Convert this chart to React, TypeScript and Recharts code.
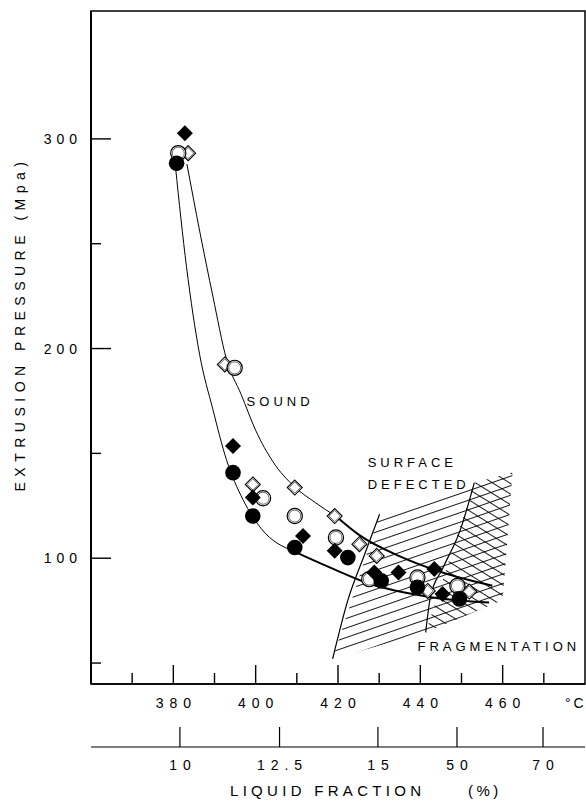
import React from 'react';
import { ComposedChart, XAxis, YAxis, Line, Area, Scatter, ReferenceArea, ReferenceDot } from 'recharts';

const FONT = '"Liberation Sans", Arial, Helvetica, sans-serif';

// temperature axis (deg C) - labelled every 20, small ticks in between
const tempTicks = [370, 380, 390, 400, 410, 420, 430, 440, 450, 460, 470];
const pressureTicks = [50, 100, 150, 200, 250, 300];

// liquid fraction scale, placed at the matching temperatures
const fractionTemps = [381.6, 405.8, 429.7, 448.9, 469.8];
const fractionLabels = ['10', '12.5', '15', '50', '70'];

// measured points (x = temperature, y = pressure MPa)
const filledCircles = [
  { x: 380.8, y: 288.4 }, { x: 394.5, y: 140.8 }, { x: 399.3, y: 120.1 }, { x: 409.5, y: 105.1 },
  { x: 422.4, y: 100.3 }, { x: 430.5, y: 89.2 }, { x: 439.3, y: 86.1 }, { x: 449.5, y: 80.6 },
];
const openCircles = [
  { x: 381.2, y: 293.2 }, { x: 394.9, y: 190.8 }, { x: 401.8, y: 128.6 }, { x: 409.5, y: 120.1 },
  { x: 419.5, y: 109.9 }, { x: 427.6, y: 90.0 }, { x: 439.3, y: 90.8 }, { x: 449.0, y: 86.8 },
];
const filledDiamonds = [
  { x: 382.8, y: 302.7 }, { x: 394.5, y: 153.5 }, { x: 399.3, y: 128.9 }, { x: 411.5, y: 110.6 },
  { x: 419.2, y: 103.5 }, { x: 428.8, y: 93.2 }, { x: 434.7, y: 93.2 }, { x: 443.4, y: 94.8 },
  { x: 445.4, y: 82.9 },
];
const openDiamonds = [
  { x: 383.6, y: 293.2 }, { x: 392.5, y: 192.4 }, { x: 399.3, y: 135.2 }, { x: 409.5, y: 133.7 },
  { x: 419.2, y: 120.1 }, { x: 425.2, y: 106.7 }, { x: 429.4, y: 101.1 }, { x: 441.8, y: 84.4 },
  { x: 451.9, y: 84.1 },
];

// boundary curves of the "sound" band
const upperCurveThin = [
  { x: 383.3, y: 288 }, { x: 386.4, y: 256 }, { x: 389.6, y: 225 }, { x: 392.9, y: 195 },
  { x: 396.5, y: 178 }, { x: 400, y: 161 }, { x: 404.2, y: 146 }, { x: 409.5, y: 134 },
  { x: 414.5, y: 126.5 }, { x: 419.5, y: 120 },
];
const upperCurveThick = [
  { x: 419.5, y: 120 }, { x: 425.2, y: 111 }, { x: 434.9, y: 101 }, { x: 445.4, y: 93.2 }, { x: 457.5, y: 86.9 },
];
const lowerCurveThin = [
  { x: 380.5, y: 287 }, { x: 383.2, y: 239 }, { x: 386.4, y: 197 }, { x: 389.6, y: 171 },
  { x: 392.9, y: 147 }, { x: 396.9, y: 128 }, { x: 401.4, y: 114 }, { x: 409, y: 103.5 },
];
const lowerCurveThick = [
  { x: 409, y: 103.5 }, { x: 418.7, y: 95 }, { x: 426.8, y: 88.4 }, { x: 443, y: 81.3 }, { x: 456.7, y: 78.9 },
];

// region boundaries
const defectedEdge = [{ x: 418.7, y: 52 }, { x: 422.4, y: 80 }, { x: 426.5, y: 102 }, { x: 430.1, y: 121 }];
const fragmentEdge = [{ x: 441.3, y: 64.6 }, { x: 442.5, y: 82 }, { x: 445.4, y: 95 }, { x: 449.8, y: 114 }, { x: 453.1, y: 136 }];

// hatched regions as [low, high] ranges
const defectedRegion = [
  { x: 418.7, range: [52, 52] }, { x: 430.1, range: [58.4, 121] },
  { x: 441.3, range: [64.6, 128.3] }, { x: 453.1, range: [136, 136] },
];
const fragmentRegion = [
  { x: 441.3, range: [64.6, 64.6] }, { x: 453.1, range: [74.3, 136] },
  { x: 460, range: [80, 139.7] }, { x: 462.4, range: [141, 141] },
];

const TempTick = ({ x, y, payload }: any) => {
  const major = payload.value % 20 === 0;
  return (
    <g>
      <line x1={x} y1={y} x2={x} y2={y - (major ? 19 : 11)} stroke="#000" strokeWidth={1.4} />
      {major && (
        <text x={x} y={y + 24} dx={3} textAnchor="middle" fontSize={14} fontFamily={FONT} letterSpacing={6} fill="#000">
          {payload.value}
        </text>
      )}
    </g>
  );
};

const FractionTick = ({ x, y, payload }: any) => {
  const i = fractionTemps.indexOf(payload.value);
  return (
    <g>
      <line x1={x} y1={y} x2={x} y2={y - 20} stroke="#000" strokeWidth={1.2} />
      <text x={x} y={y + 23} dx={3} textAnchor="middle" fontSize={14} fontFamily={FONT} letterSpacing={6} fill="#000">
        {fractionLabels[i]}
      </text>
    </g>
  );
};

const PressureTick = ({ x, y, payload }: any) => {
  const major = payload.value % 100 === 0;
  return (
    <g>
      <line x1={x} y1={y} x2={x + (major ? 20 : 10)} y2={y} stroke="#000" strokeWidth={1.4} />
      {major && (
        <text x={x - 9} y={y + 5} textAnchor="end" fontSize={14} fontFamily={FONT} letterSpacing={5} fill="#000">
          {payload.value}
        </text>
      )}
    </g>
  );
};

const FilledCircle = ({ cx, cy }: any) => <circle cx={cx} cy={cy} r={7.8} fill="#000" />;

const OpenCircle = ({ cx, cy }: any) => (
  <g>
    <circle cx={cx} cy={cy} r={7.6} fill="#fff" stroke="#000" strokeWidth={1.2} />
    <circle cx={cx} cy={cy} r={6} fill="none" stroke="#000" strokeWidth={0.6} />
  </g>
);

const diamond = (cx: number, cy: number, r: number) =>
  `M${cx},${cy - r}L${cx + r},${cy}L${cx},${cy + r}L${cx - r},${cy}Z`;

const FilledDiamond = ({ cx, cy }: any) => <path d={diamond(cx, cy, 8)} fill="#000" />;

const OpenDiamond = ({ cx, cy }: any) => (
  <g>
    <path d={diamond(cx, cy, 7.5)} fill="#fff" stroke="#000" strokeWidth={1.1} />
    <path d={diamond(cx, cy, 5.6)} fill="none" stroke="#000" strokeWidth={0.6} />
  </g>
);

// label drawn to the right of a zero-size reference dot
const note = (text: string) => (props: any) => (
  <text x={props.viewBox.x} y={props.viewBox.y + 5} fontSize={13} fontFamily={FONT} letterSpacing={4} fill="#000">
    {text}
  </text>
);

export default function App() {
  return (
    <div style={{ position: 'absolute', left: 0, top: 0, width: 586, height: 801, background: '#fff' }}>
      <ComposedChart width={586} height={801} margin={{ top: 11, right: 1, bottom: 0, left: 0 }}>
        <defs>
          <pattern id="hatchFlat" width="9" height="9" patternUnits="userSpaceOnUse" patternTransform="rotate(-19)">
            <line x1="0" y1="4.5" x2="9" y2="4.5" stroke="#000" strokeWidth="0.9" />
          </pattern>
          <pattern id="hatchSteep" width="9" height="9" patternUnits="userSpaceOnUse" patternTransform="rotate(32)">
            <line x1="0" y1="4.5" x2="9" y2="4.5" stroke="#000" strokeWidth="0.9" />
          </pattern>
        </defs>

        {/* temperature axis (id 0) sits on the plot, liquid fraction axis (id 1) below it */}
        <XAxis
          xAxisId={0}
          type="number"
          dataKey="x"
          domain={[360, 480]}
          allowDataOverflow
          ticks={tempTicks}
          interval={0}
          height={63}
          tickSize={0}
          tickMargin={0}
          tick={<TempTick />}
          axisLine={{ stroke: '#000', strokeWidth: 1.5 }}
          label={(props: any) => (
            <text x={props.viewBox.x + 474} y={props.viewBox.y + 24} fontSize={14} fontFamily={FONT} letterSpacing={3} fill="#000">
              °C
            </text>
          )}
        />
        <XAxis
          xAxisId={1}
          type="number"
          dataKey="x"
          domain={[360, 480]}
          allowDataOverflow
          ticks={fractionTemps}
          interval={0}
          height={54}
          tickSize={0}
          tickMargin={0}
          tick={<FractionTick />}
          axisLine={{ stroke: '#000', strokeWidth: 1.2 }}
          label={(props: any) => (
            <g>
              <text x={props.viewBox.x + 139} y={props.viewBox.y + 49} fontSize={15} fontFamily={FONT} letterSpacing={4.3} fill="#000">
                LIQUID FRACTION
              </text>
              <text x={props.viewBox.x + 377} y={props.viewBox.y + 49} fontSize={15} fontFamily={FONT} letterSpacing={3.5} fill="#000">
                (%)
              </text>
            </g>
          )}
        />
        <YAxis
          type="number"
          dataKey="y"
          domain={[40, 361]}
          allowDataOverflow
          ticks={pressureTicks}
          interval={0}
          width={91}
          tickSize={0}
          tickMargin={0}
          tick={<PressureTick />}
          axisLine={{ stroke: '#000', strokeWidth: 2 }}
          label={() => (
            <text
              x={25}
              y={324}
              transform="rotate(-90, 25, 324)"
              textAnchor="middle"
              fontSize={14}
              fontFamily={FONT}
              letterSpacing={5.5}
              fill="#000"
            >
              EXTRUSION PRESSURE  (Mpa)
            </text>
          )}
        />

        <Area data={defectedRegion} dataKey="range" type="linear" stroke="none" fill="url(#hatchFlat)" fillOpacity={1} dot={false} activeDot={false} isAnimationActive={false} />
        <Area data={fragmentRegion} dataKey="range" type="linear" stroke="none" fill="url(#hatchFlat)" fillOpacity={1} dot={false} activeDot={false} isAnimationActive={false} />
        <Area data={fragmentRegion} dataKey="range" type="linear" stroke="none" fill="url(#hatchSteep)" fillOpacity={1} dot={false} activeDot={false} isAnimationActive={false} />

        <Line data={defectedEdge} dataKey="y" type="monotone" stroke="#000" strokeWidth={1.2} dot={false} activeDot={false} isAnimationActive={false} />
        <Line data={fragmentEdge} dataKey="y" type="monotone" stroke="#000" strokeWidth={1.2} dot={false} activeDot={false} isAnimationActive={false} />
        <Line data={upperCurveThin} dataKey="y" type="monotone" stroke="#000" strokeWidth={1} dot={false} activeDot={false} isAnimationActive={false} />
        <Line data={upperCurveThick} dataKey="y" type="monotone" stroke="#000" strokeWidth={2} dot={false} activeDot={false} isAnimationActive={false} />
        <Line data={lowerCurveThin} dataKey="y" type="monotone" stroke="#000" strokeWidth={1} dot={false} activeDot={false} isAnimationActive={false} />
        <Line data={lowerCurveThick} dataKey="y" type="monotone" stroke="#000" strokeWidth={2} dot={false} activeDot={false} isAnimationActive={false} />

        <Scatter data={openDiamonds} dataKey="y" shape={OpenDiamond} isAnimationActive={false} />
        <Scatter data={openCircles} dataKey="y" shape={OpenCircle} isAnimationActive={false} />
        <Scatter data={filledDiamonds} dataKey="y" shape={FilledDiamond} isAnimationActive={false} />
        <Scatter data={filledCircles} dataKey="y" shape={FilledCircle} isAnimationActive={false} />

        <ReferenceArea x1={360} x2={480} y1={40} y2={361} fill="none" stroke="#000" strokeWidth={1.5} />

        <ReferenceDot x={397.8} y={175.2} r={0} fill="none" stroke="none" label={note('SOUND')} />
        <ReferenceDot x={427.2} y={145.7} r={0} fill="none" stroke="none" label={note('SURFACE')} />
        <ReferenceDot x={427.2} y={135.2} r={0} fill="none" stroke="none" label={note('DEFECTED')} />
        <ReferenceDot x={439.3} y={58.1} r={0} fill="none" stroke="none" label={note('FRAGMENTATION')} />
      </ComposedChart>
    </div>
  );
}
